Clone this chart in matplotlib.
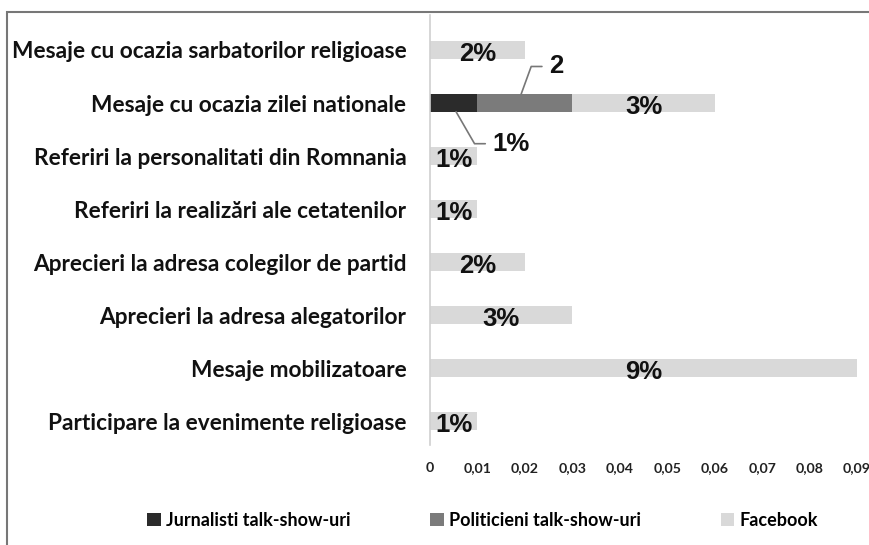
import numpy as np
from matplotlib import pyplot as plt
from matplotlib.patches import Rectangle
from matplotlib.ticker import FuncFormatter

# Categories, top to bottom
categories = ['Mesaje cu ocazia sarbatorilor religioase',
              'Mesaje cu ocazia zilei nationale',
              'Referiri la personalitati din Romnania',
              'Referiri la realizări ale cetatenilor',
              'Aprecieri la adresa colegilor de partid',
              'Aprecieri la adresa alegatorilor',
              'Mesaje mobilizatoare',
              'Participare la evenimente religioase']

jurnalisti = [0, 0.01, 0, 0, 0, 0, 0, 0]
politicieni = [0, 0.02, 0, 0, 0, 0, 0, 0]
facebook = [0.02, 0.03, 0.01, 0.01, 0.02, 0.03, 0.09, 0.01]

series_names = ['Jurnalisti talk-show-uri', 'Politicieni talk-show-uri', 'Facebook']
colors = ['#2b2b2b', '#7b7b7b', '#d9d9d9']
xticks = [0, 0.01, 0.02, 0.03, 0.04, 0.05, 0.06, 0.07, 0.08, 0.09]

fig = plt.figure(figsize=(8.7, 5.45), dpi=100)
ax = fig.add_axes([430 / 870, 1 - 445 / 545, 427 / 870, 430 / 545])

y = np.arange(len(categories))
j = np.array(jurnalisti)
p = np.array(politicieni)
f = np.array(facebook)
h = 0.33
ax.barh(y, j, height=h, color=colors[0], label=series_names[0])
ax.barh(y, p, left=j, height=h, color=colors[1], label=series_names[1])
ax.barh(y, f, left=j + p, height=h, color=colors[2], label=series_names[2])

ax.set_ylim(7.45, -0.66)
ax.set_xlim(0, 0.09)

lab_font = dict(fontsize=18.5, fontweight='bold', family='Liberation Sans', color='#111111')

# Facebook share labels in the middle of each light segment
for i in range(len(categories)):
    ax.text(j[i] + p[i] + f[i] / 2, i + 0.08, '%d%%' % round(f[i] * 100),
            ha='center', va='center', **lab_font)

# Leader-line labels for the talk-show segments
i = 1
ax.annotate('%d' % round(p[i] * 100), xy=(j[i] + p[i] * 0.46, i - h / 2),
            xytext=(20, 20), textcoords='offset points', ha='left', va='center',
            arrowprops=dict(arrowstyle='-', color='#777777', lw=1.2, shrinkA=3, shrinkB=0,
                            connectionstyle='angle,angleA=0,angleB=70,rad=0'),
            **lab_font)
ax.annotate('%d%%' % round(j[i] * 100), xy=(j[i] * 0.55, i + h / 2),
            xytext=(26, -23), textcoords='offset points', ha='left', va='center',
            arrowprops=dict(arrowstyle='-', color='#777777', lw=1.2, shrinkA=3, shrinkB=0,
                            connectionstyle='angle,angleA=0,angleB=-60,rad=0'),
            **lab_font)

ax.set_yticks(y)
ax.set_yticklabels(categories, fontsize=16.3, fontweight='bold', family='Lato', color='#111111')
ax.set_xticks(xticks)
ax.xaxis.set_major_formatter(FuncFormatter(lambda v, pos: '0' if v == 0 else ('%.2f' % v).replace('.', ',')))
for lab in ax.get_xticklabels():
    lab.set_fontsize(10.2)
    lab.set_fontweight('bold')
    lab.set_family('Lato')
    lab.set_color('#222222')
ax.tick_params(axis='y', length=0, pad=17)
ax.tick_params(axis='x', length=0, pad=12)
for s in ['top', 'right', 'bottom']:
    ax.spines[s].set_visible(False)
ax.spines['left'].set_color('#d0d0d0')
ax.spines['left'].set_linewidth(1.2)

leg = fig.legend(loc='center', bbox_to_anchor=(0.555, 1 - 520 / 545), ncol=3, frameon=False,
                 handlelength=0.75, handleheight=0.75, handletextpad=0.3, columnspacing=4.4,
                 prop={'family': 'Lato', 'weight': 'bold', 'size': 13})

# Frame around the chart area
fig.patches.append(Rectangle((7 / 870, -0.05), 1.0, 1 - 12 / 545 + 0.05, transform=fig.transFigure,
                             fill=False, edgecolor='#777777', lw=1.5))

fig.savefig('out.png', dpi=100)
